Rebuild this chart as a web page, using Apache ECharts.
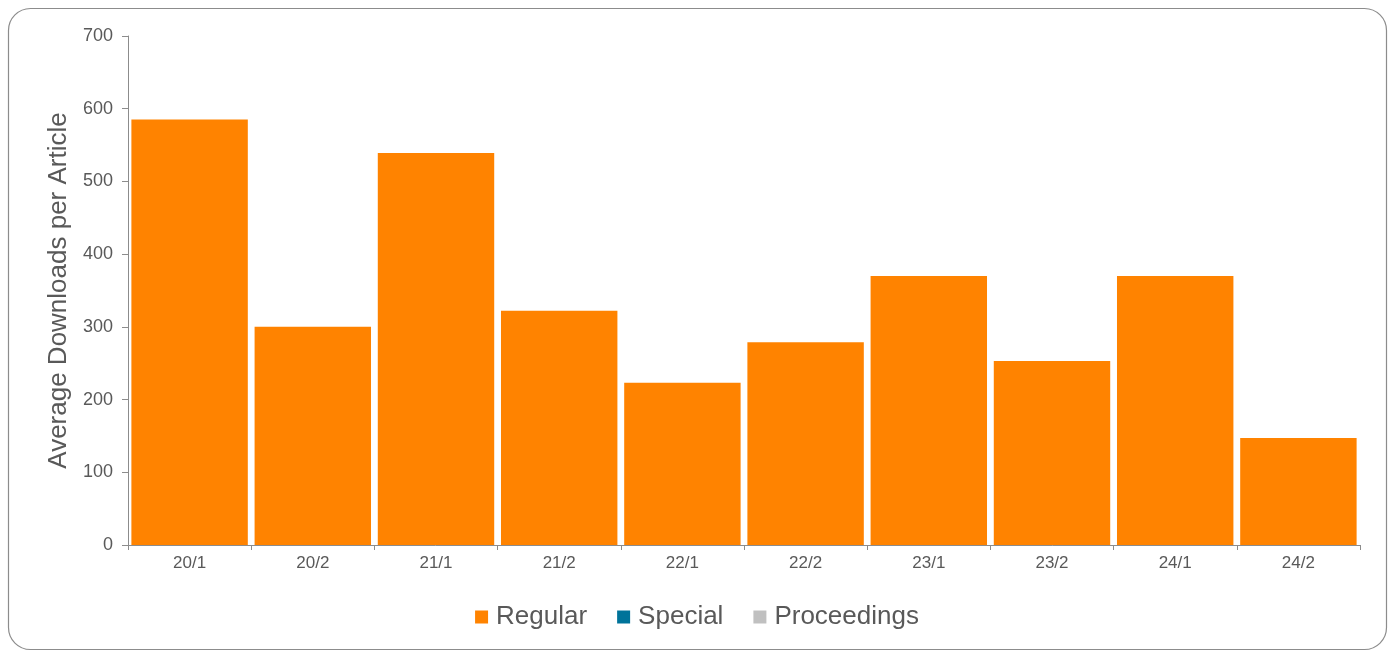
<!DOCTYPE html>
<html><head><meta charset="utf-8">
<script src="https://cdn.jsdelivr.net/npm/echarts@6/dist/echarts.min.js"></script>
<style>html,body{margin:0;padding:0;background:#fff}#c{width:1394px;height:653px}</style>
</head><body><div id="c"></div>
<script>
const categories = ['20/1','20/2','21/1','21/2','22/1','22/2','23/1','23/2','24/1','24/2'];
const regular = [585, 300, 539, 322, 223, 279, 370, 253, 370, 147];
const special = [];
const proceedings = [];
const yTicks = {min: 0, max: 700, interval: 100};

const chart = echarts.init(document.getElementById('c'));
const txt = '#595959';
const ff = 'Liberation Sans, Arial';
chart.setOption({
  animation: false,
  graphic: [{type:'rect', shape:{x:8.5,y:8.5,width:1378,height:641,r:22}, style:{fill:'none',stroke:'#8c8c8c',lineWidth:1.2}, silent:true}],
  grid: {left:128, right:34, top:36, bottom:108},
  legend: {
    bottom: 18, left: 'center', itemWidth: 13, itemHeight: 13, itemGap: 30, icon: 'rect',
    textStyle: {fontFamily:ff, fontSize: 26, color: txt, padding:[0,0,0,3]},
    data: ['Regular','Special','Proceedings']
  },
  xAxis: {
    type: 'category', data: categories,
    axisLine: {lineStyle:{color:'#8c8c8c'}},
    axisTick: {show:true, length:5, lineStyle:{color:'#8c8c8c'}},
    axisLabel: {fontFamily:ff, fontSize:17, color:txt, margin:10}
  },
  yAxis: {
    type: 'value', min: yTicks.min, max: yTicks.max, interval: yTicks.interval,
    name: 'Average Downloads per Article', nameLocation: 'middle', nameGap: 55,
    nameTextStyle: {fontFamily:ff, fontSize:26, color:txt},
    axisLine: {show:true, lineStyle:{color:'#8c8c8c'}},
    axisTick: {show:true, length:6, lineStyle:{color:'#8c8c8c'}},
    splitLine: {show:false},
    axisLabel: {fontFamily:ff, fontSize:18, color:txt, margin:15}
  },
  series: [
    {name:'Regular', type:'bar', data: regular, barCategoryGap:'5.5%', barGap:'-100%', itemStyle:{color:'#ff8300'}},
    {name:'Special', type:'bar', data: special, barGap:'-100%', itemStyle:{color:'#00739a'}},
    {name:'Proceedings', type:'bar', data: proceedings, barGap:'-100%', itemStyle:{color:'#c0c0c0'}}
  ]
});
</script></body></html>
